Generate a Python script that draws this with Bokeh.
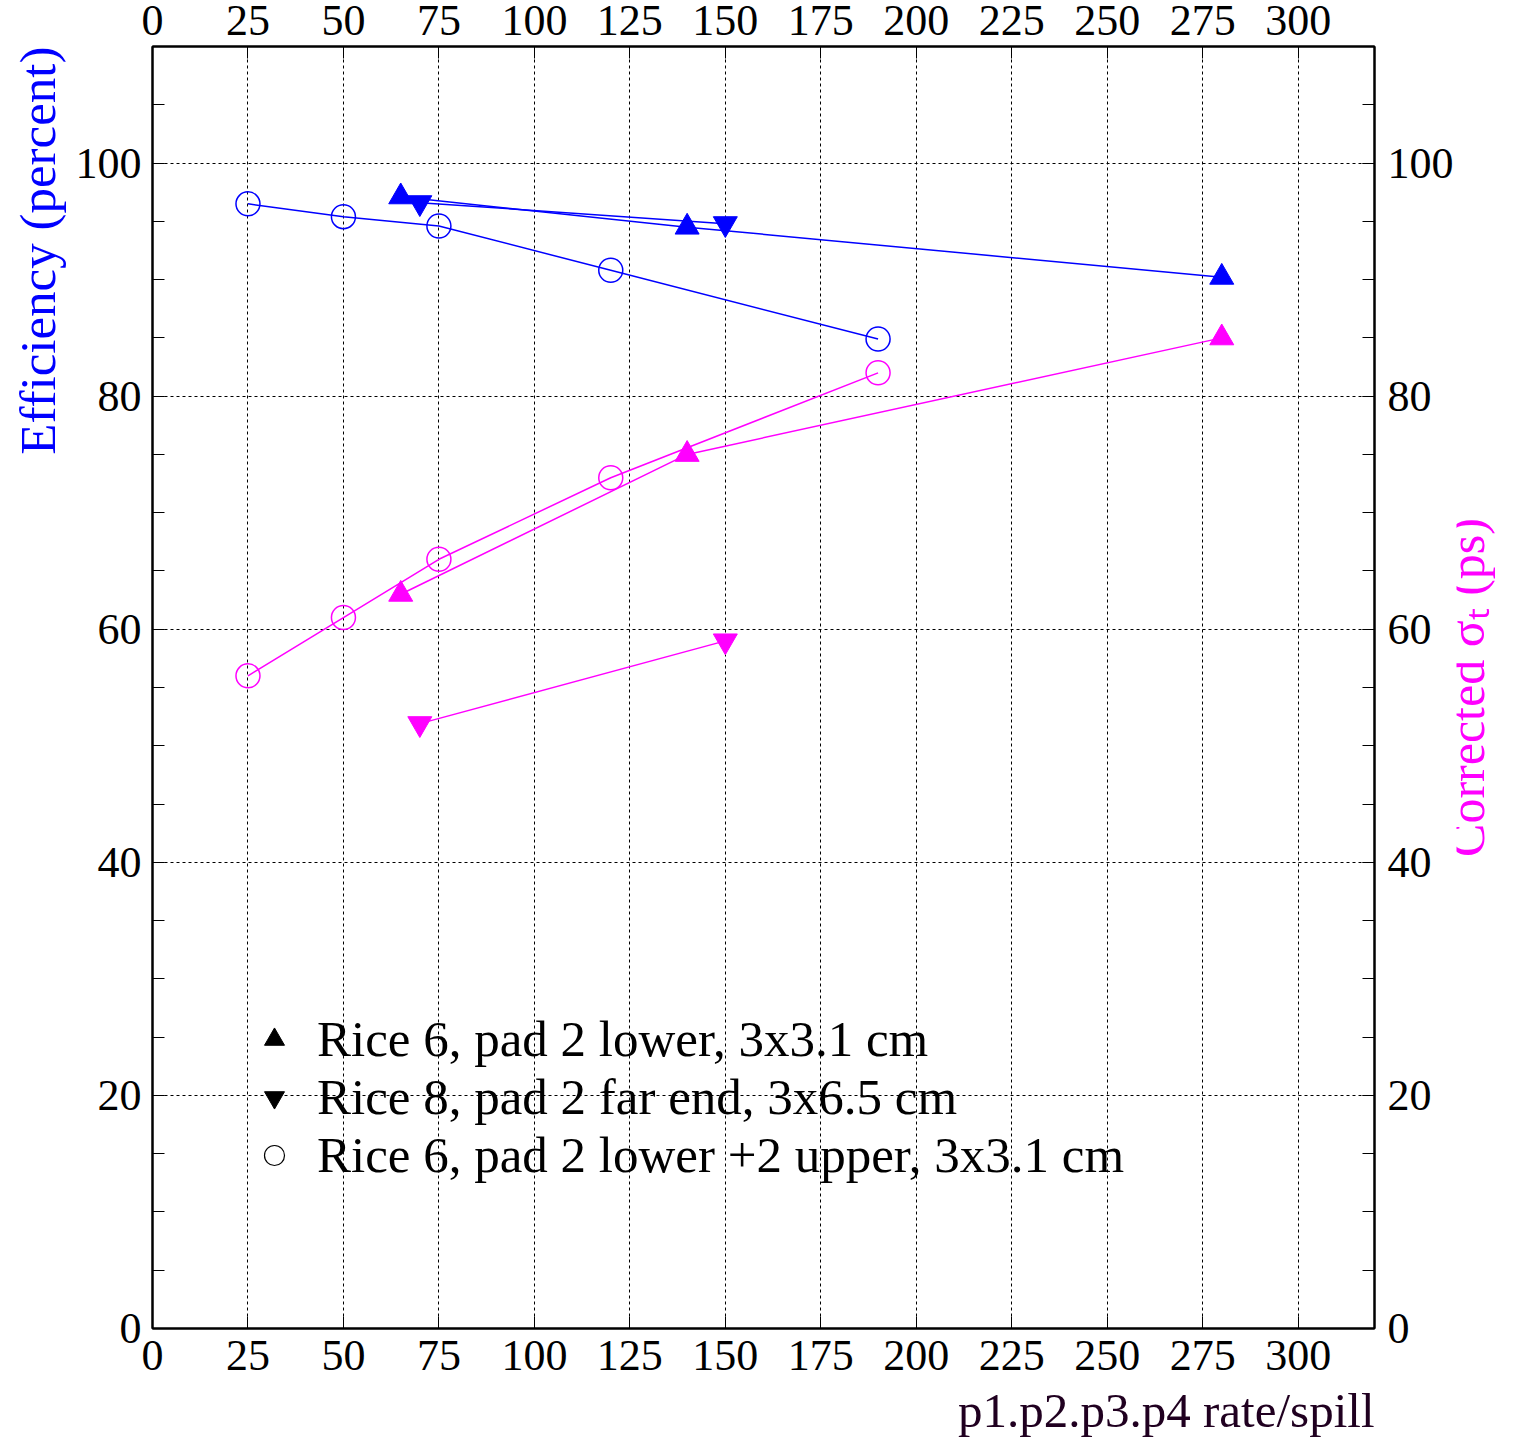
import math
from bokeh.plotting import figure
from bokeh.layouts import row
from bokeh.models import (LinearAxis, Range1d, FixedTicker, Legend, LegendItem,
                          Title, Label)
from bokeh.embed import file_html
from bokeh.resources import INLINE

# ---------------- data ----------------
x_tri_up = [65, 140, 280]
eff_tri_up = [97.1, 94.5, 90.2]
sig_tri_up = [63.0, 75.0, 85.0]

x_tri_dn = [70, 150]
eff_tri_dn = [96.6, 94.8]
sig_tri_dn = [51.9, 59.0]

x_circ = [25, 50, 75, 120, 190]
eff_circ = [96.5, 95.4, 94.6, 90.8, 84.9]
sig_circ = [56.0, 61.0, 66.0, 73.0, 82.0]

x_ticks = [0, 25, 50, 75, 100, 125, 150, 175, 200, 225, 250, 275, 300]
y_ticks = [0, 20, 40, 60, 80, 100]
y_minor = [0, 5, 10, 15, 20, 25, 30, 35, 40, 45, 50, 55, 60, 65, 70, 75, 80,
           85, 90, 95, 100, 105, 110]

legend_labels = ["Rice 6, pad 2 lower, 3x3.1 cm",
                 "Rice 8, pad 2 far end, 3x6.5 cm",
                 "Rice 6, pad 2 lower +2 upper, 3x3.1 cm"]
x_title = "p1.p2.p3.p4 rate/spill"
y_title = "Efficiency (percent)"
y2_title = "Corrected \u03c3\u209c (ps)"

FONT = "Liberation Serif"
BLUE = "#0000ff"
MAG = "#ff00ff"
W_MAIN, W_SIDE, H = 1456, 63, 1445
FRAME_L, FRAME_R, FRAME_T, FRAME_B = 152, 1377, 46, 1331

y_eff = Range1d(0, 110)
y_sig = Range1d(0, 110)

# ---------------- main figure ----------------
p = figure(width=W_MAIN, height=H,
           x_range=Range1d(0, 320), y_range=y_eff,
           output_backend="svg", toolbar_location=None,
           min_border_left=FRAME_L, min_border_right=W_MAIN - FRAME_R,
           min_border_top=FRAME_T, min_border_bottom=H - FRAME_B,
           background_fill_color="white", border_fill_color="white",
           outline_line_color="black", outline_line_width=2)
p.extra_y_ranges = {"sig": y_sig}


def style_axis(ax, ticks, minor, standoff, font_size="44px"):
    ax.ticker = FixedTicker(ticks=ticks, minor_ticks=minor)
    ax.major_tick_in = 12
    ax.major_tick_out = 0
    ax.minor_tick_in = 12
    ax.minor_tick_out = 0
    ax.major_tick_line_color = "black"
    ax.minor_tick_line_color = "black"
    ax.major_tick_line_width = 1
    ax.minor_tick_line_width = 1
    ax.axis_line_color = "black"
    ax.axis_line_width = 2
    ax.major_label_text_font = FONT
    ax.major_label_text_font_size = font_size
    ax.major_label_text_color = "black"
    ax.major_label_standoff = standoff


style_axis(p.xaxis[0], x_ticks, [], 12)
style_axis(p.yaxis[0], y_ticks, y_minor, 11)

right_axis = LinearAxis(y_range_name="sig")
style_axis(right_axis, y_ticks, y_minor, 13)
p.add_layout(right_axis, "right")

top_axis = LinearAxis()
style_axis(top_axis, x_ticks, [], 12)
p.add_layout(top_axis, "above")

# axis titles
p.add_layout(Title(text=y_title, align="right", standoff=13,
                   text_font=FONT, text_font_size="51px",
                   text_font_style="normal", text_color=BLUE), "left")
p.add_layout(Title(text=x_title, align="right", standoff=16,
                   text_font=FONT, text_font_size="49px",
                   text_font_style="normal", text_color="#200020"), "below")

# grid
p.xgrid[0].ticker = FixedTicker(ticks=x_ticks)
p.ygrid[0].ticker = FixedTicker(ticks=y_ticks)
for g in (p.xgrid[0], p.ygrid[0]):
    g.grid_line_color = "black"
    g.grid_line_dash = "3 3"
    g.grid_line_width = 1

# ---------------- series ----------------
# efficiency (blue, left axis)
p.line(x_tri_up, eff_tri_up, line_color=BLUE, line_width=1.5)
p.line(x_tri_dn, eff_tri_dn, line_color=BLUE, line_width=1.5)
p.line(x_circ, eff_circ, line_color=BLUE, line_width=1.5)
p.scatter(x_tri_up, eff_tri_up, marker="triangle", size=24,
          fill_color=BLUE, line_color=BLUE)
p.scatter(x_tri_dn, eff_tri_dn, marker="inverted_triangle", size=24,
          fill_color=BLUE, line_color=BLUE)
p.scatter(x_circ, eff_circ, marker="circle", size=24,
          fill_color=None, line_color=BLUE, line_width=1.5)

# sigma_t (magenta, right axis)
p.line(x_tri_up, sig_tri_up, line_color=MAG, line_width=1.5, y_range_name="sig")
p.line(x_tri_dn, sig_tri_dn, line_color=MAG, line_width=1.5, y_range_name="sig")
p.line(x_circ, sig_circ, line_color=MAG, line_width=1.5, y_range_name="sig")
p.scatter(x_tri_up, sig_tri_up, marker="triangle", size=24,
          fill_color=MAG, line_color=MAG, y_range_name="sig")
p.scatter(x_tri_dn, sig_tri_dn, marker="inverted_triangle", size=24,
          fill_color=MAG, line_color=MAG, y_range_name="sig")
p.scatter(x_circ, sig_circ, marker="circle", size=24,
          fill_color=None, line_color=MAG, line_width=1.5, y_range_name="sig")

# ---------------- legend (black symbols, hidden proxy renderers) ----------------
r_up = p.scatter(x_tri_up, eff_tri_up, marker="triangle", size=20,
                 fill_color="black", line_color="black", visible=False)
r_dn = p.scatter(x_tri_dn, eff_tri_dn, marker="inverted_triangle", size=20,
                 fill_color="black", line_color="black", visible=False)
r_ci = p.scatter(x_circ, eff_circ, marker="circle", size=20,
                 fill_color=None, line_color="black", line_width=1.2,
                 visible=False)
legend = Legend(items=[LegendItem(label=legend_labels[0], renderers=[r_up]),
                       LegendItem(label=legend_labels[1], renderers=[r_dn]),
                       LegendItem(label=legend_labels[2], renderers=[r_ci])],
                location=(97, 144), orientation="vertical",
                label_text_font=FONT, label_text_font_size="51px",
                label_text_color="black",
                border_line_color=None, background_fill_alpha=0,
                inactive_fill_alpha=0,
                padding=0, margin=0, spacing=0,
                glyph_width=50, glyph_height=52, label_height=52,
                label_standoff=18)
p.add_layout(legend)

# ---------------- side strip carrying the right-hand (sigma_t) title ----------------
side = figure(width=W_SIDE, height=H, x_range=Range1d(0, 1), y_range=y_sig,
              output_backend="svg", toolbar_location=None,
              x_axis_location=None, y_axis_location=None,
              min_border_left=0, min_border_right=0,
              min_border_top=FRAME_T, min_border_bottom=H - FRAME_B,
              background_fill_color="white", border_fill_color="white",
              outline_line_color=None)
side.grid.visible = False
side.add_layout(Label(x=0.16, y=55, angle=math.pi / 2, text=y2_title,
                      text_align="center", text_baseline="alphabetic",
                      text_font=FONT, text_font_size="50px",
                      text_color=MAG))

layout = row(p, side, spacing=0)
open("out.html", "w").write(file_html(layout, INLINE))
